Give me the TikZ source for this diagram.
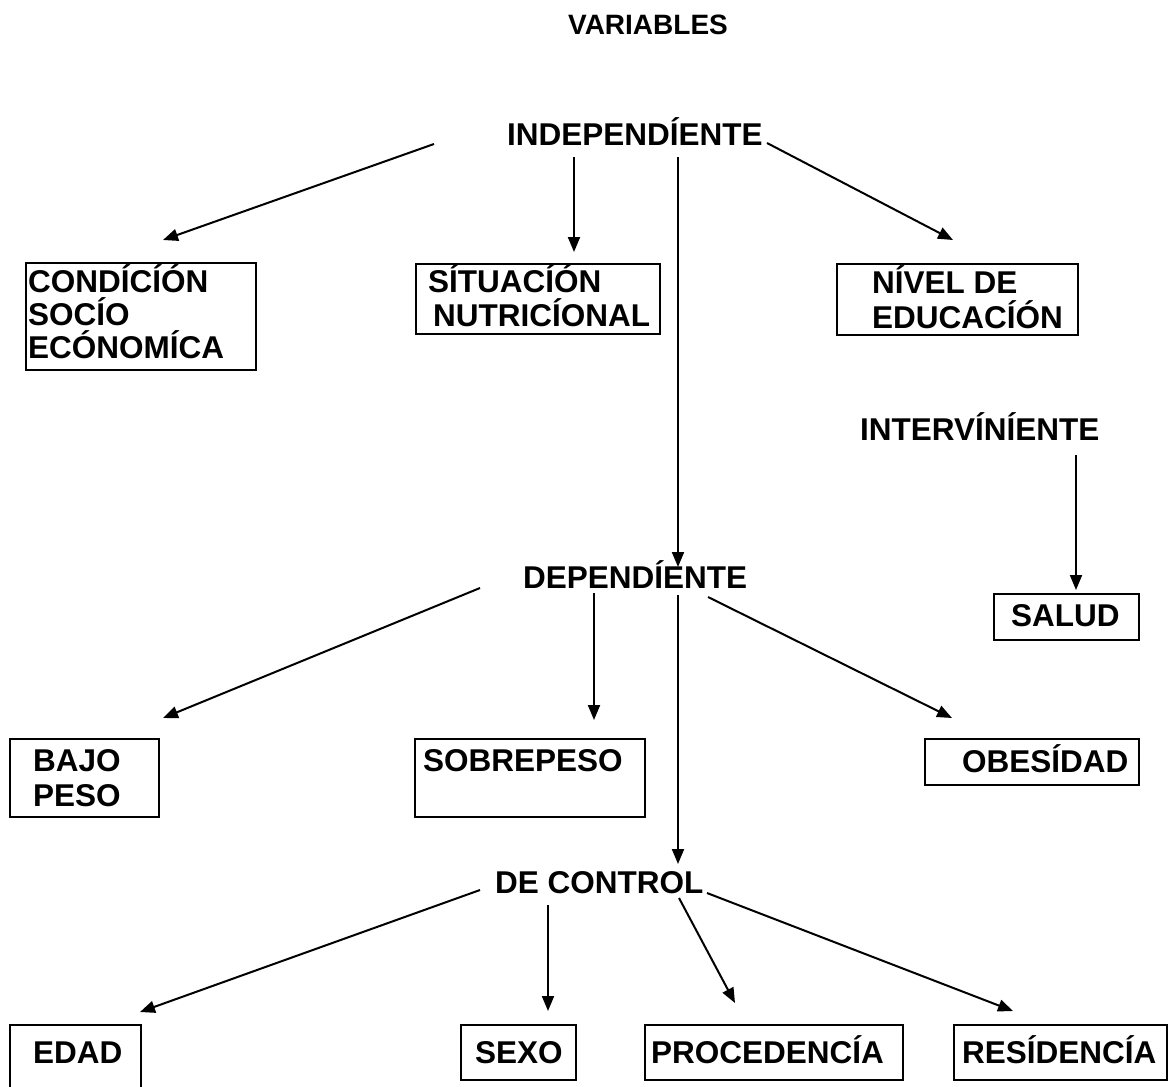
\documentclass[tikz,border=0pt]{standalone}
\usepackage{fontspec}
\setmainfont{Liberation Sans}
\usetikzlibrary{arrows.meta}
\tikzset{
  lbl/.style={font=\bfseries\fontsize{31.5}{36}\selectfont, anchor=base west, inner sep=0pt},
  ttl/.style={font=\bfseries\fontsize{28}{32}\selectfont, inner sep=0pt},
  box/.style={draw, line width=1.8pt, anchor=north west, inner sep=0pt},
  arr/.style={line width=2pt, -{Triangle[length=15pt,width=12pt]}},
}
\begin{document}
\begin{tikzpicture}[x=1pt,y=-1pt]
\useasboundingbox (0,0) rectangle (1168,1087);
\clip (0,0) rectangle (1168,1087);
\fill[white] (0,0) rectangle (1168,1087);

% title
\node[ttl] (title) at (648,25) {VARIABLES};

% level labels
\node[lbl] (indep) at (507,145) {INDEPENDÍENTE};
\node[lbl] (interv) at (860,440) {INTERVÍNÍENTE};
\node[lbl] (dep) at (523,588) {DEPENDÍENTE};
\node[lbl] (ctrl) at (495,893) {DE CONTROL};

% boxes
\node[box, minimum width=230pt, minimum height=107pt] (condbox) at (25,262) {};
\node[lbl] (cond1) at (28,292) {CONDÍCÍÓN};
\node[lbl] (cond2) at (28,325) {SOCÍO};
\node[lbl] (cond3) at (28,358) {ECÓNOMÍCA};

\node[box, minimum width=244pt, minimum height=70pt] (situbox) at (415,263) {};
\node[lbl] (situ1) at (428,292) {SÍTUACÍÓN};
\node[lbl] (situ2) at (433,326) {NUTRICÍONAL};

\node[box, minimum width=241pt, minimum height=71pt] (nivbox) at (836,263) {};
\node[lbl] (niv1) at (872,293) {NÍVEL DE};
\node[lbl] (niv2) at (872,328) {EDUCACÍÓN};

\node[box, minimum width=145pt, minimum height=46pt] (salbox) at (993,593) {};
\node[lbl] (sal) at (1011,626) {SALUD};

\node[box, minimum width=149pt, minimum height=78pt] (bajbox) at (9,738) {};
\node[lbl] (baj1) at (33,771) {BAJO};
\node[lbl] (baj2) at (33,806) {PESO};

\node[box, minimum width=230pt, minimum height=78pt] (sobbox) at (414,738) {};
\node[lbl] (sob) at (423,771) {SOBREPESO};

\node[box, minimum width=214pt, minimum height=46pt] (obebox) at (924,738) {};
\node[lbl] (obe) at (962,772) {OBESÍDAD};

\node[box, minimum width=131pt, minimum height=80pt] (edabox) at (9,1024) {};
\node[lbl] (eda) at (33,1063) {EDAD};

\node[box, minimum width=115pt, minimum height=55pt] (sexbox) at (460,1024) {};
\node[lbl] (sex) at (475,1063) {SEXO};

\node[box, minimum width=258pt, minimum height=55pt] (probox) at (644,1024) {};
\node[lbl] (pro) at (651,1063) {PROCEDENCÍA};

\node[box, minimum width=213pt, minimum height=55pt] (resbox) at (953,1024) {};
\node[lbl] (res) at (962,1063) {RESÍDENCÍA};

% connector end points
\coordinate (i1s) at (434,144); \coordinate (i1e) at (163,240);
\coordinate (i2s) at (574,157); \coordinate (i2e) at (574,252);
\coordinate (i3s) at (678,157); \coordinate (i3e) at (678,567);
\coordinate (i4s) at (767,143); \coordinate (i4e) at (953,240);
\coordinate (v1s) at (1076,455); \coordinate (v1e) at (1076,590);
\coordinate (d1s) at (480,588); \coordinate (d1e) at (163,718);
\coordinate (d2s) at (594,593); \coordinate (d2e) at (594,720);
\coordinate (d3s) at (678,595); \coordinate (d3e) at (678,864);
\coordinate (d4s) at (708,597); \coordinate (d4e) at (952,718);
\coordinate (c1s) at (480,890); \coordinate (c1e) at (140,1012);
\coordinate (c2s) at (548,905); \coordinate (c2e) at (548,1011);
\coordinate (c3s) at (679,898); \coordinate (c3e) at (735,1003);
\coordinate (c4s) at (707,893); \coordinate (c4e) at (1013,1011);

\foreach \p in {i1,i2,i3,i4,v1,d1,d2,d3,d4,c1,c2,c3,c4}
  \draw[arr] (\p s) -- (\p e);
\end{tikzpicture}
\end{document}
